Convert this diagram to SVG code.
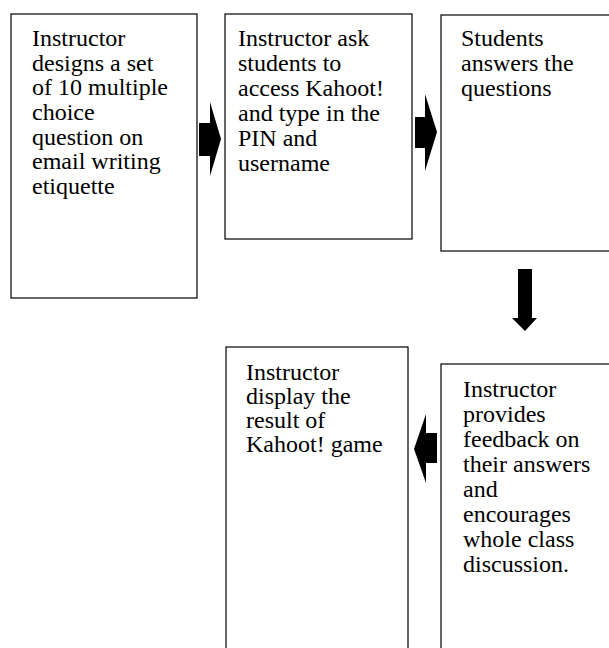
<svg xmlns="http://www.w3.org/2000/svg" width="609" height="648" viewBox="0 0 609 648">
<style>
.box{fill:#fff;stroke:#000;stroke-width:1.2}
.t{font-family:"Liberation Serif","Times New Roman",serif;font-size:24px;fill:#000}
.arr{fill:#000}
</style>
<rect width="609" height="648" fill="#fff"/>
<g id="n1">
<rect class="box" x="11" y="14" width="186" height="284"/>
<text class="t"><tspan x="32" y="46">Instructor</tspan><tspan x="32" y="71">designs a set</tspan><tspan x="32" y="95">of 10 multiple</tspan><tspan x="32" y="120">choice</tspan><tspan x="32" y="145">question on</tspan><tspan x="32" y="169">email writing</tspan><tspan x="32" y="194">etiquette</tspan></text>
</g>
<g id="n2">
<rect class="box" x="225" y="14" width="187" height="225"/>
<text class="t"><tspan x="238" y="46">Instructor ask</tspan><tspan x="238" y="71">students to</tspan><tspan x="238" y="96">access Kahoot!</tspan><tspan x="238" y="121">and type in the</tspan><tspan x="238" y="146">PIN and</tspan><tspan x="238" y="171">username</tspan></text>
</g>
<g id="n3">
<rect class="box" x="441" y="15" width="170" height="236"/>
<text class="t"><tspan x="461" y="46">Students</tspan><tspan x="461" y="71">answers the</tspan><tspan x="461" y="96">questions</tspan></text>
</g>
<g id="n4">
<rect class="box" x="226" y="347" width="182" height="310"/>
<text class="t"><tspan x="246" y="380">Instructor</tspan><tspan x="246" y="404">display the</tspan><tspan x="246" y="428">result of</tspan><tspan x="246" y="452">Kahoot! game</tspan></text>
</g>
<g id="n5">
<rect class="box" x="441" y="364" width="170" height="300"/>
<text class="t"><tspan x="463" y="397">Instructor</tspan><tspan x="463" y="422">provides</tspan><tspan x="463" y="447">feedback on</tspan><tspan x="463" y="472">their answers</tspan><tspan x="463" y="497">and</tspan><tspan x="463" y="522">encourages</tspan><tspan x="463" y="547">whole class</tspan><tspan x="463" y="572">discussion.</tspan></text>
</g>
<g id="connectors">
<polygon class="arr" points="199,123 210,123 210,102 221,139 210,176 210,156 199,156"/>
<polygon class="arr" points="415,117 425,117 425,94 437,132 425,171 425,148 415,148"/>
<polygon class="arr" points="518,269 532,269 532,318 537,318 525,331 512,318 518,318"/>
<polygon class="arr" points="437,433 426,433 426,414 414,449 426,483 426,463 437,463"/>
</g>
</svg>
